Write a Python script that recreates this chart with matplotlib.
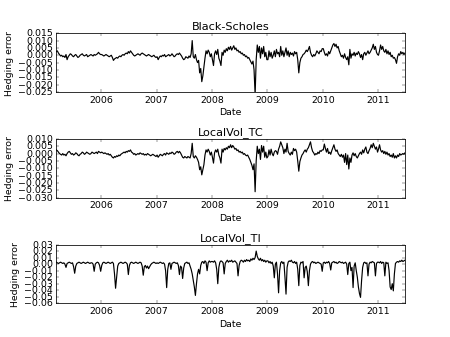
import numpy as np
import pandas as pd
import matplotlib
matplotlib.use("Agg")
import matplotlib.pyplot as plt
import matplotlib.dates as mdates
from matplotlib.ticker import MultipleLocator

plt.style.use("classic")

# Hedging error values in units of 1e-3, one list per calendar year (roughly weekly)
bs_2005 = [2.5, 3.0, 1.5, 0.5, -0.5, 0.0, -1.0, -0.5, -1.5, 0.5, -3.0, -1.0, 0.0, 1.0, 0.5, -0.5, -1.0, 0.0, 0.5, -0.5, -1.5, -1.0, 0.0, 0.5, 1.0, 0.0, -0.5, 0.0, 0.5, -1.0, -0.5, 0.0, 0.5, 0.0, -0.5, 0.5, 0.0, 0.5, 1.0, 2.0, 1.0, 0.5]
bs_2006 = [0.5, 0.0, -0.5, 0.0, 0.5, 0.0, -0.5, -1.0, -0.5, 0.0, -1.5, -3.5, -2.5, -2.0, -1.5, -2.0, -1.0, -0.5, -1.0, 0.0, 0.5, 0.0, 1.0, 1.5, 1.0, 2.5, 1.5, 3.0, 2.0, 1.0, 0.0, -0.5, 0.0, 0.5, 1.0, 0.5, 0.0, 1.0, 1.5, 1.0, 0.5, 0.0, -0.5, 0.0, 0.5, 0.0, -0.5, -1.0, -0.5, 0.0, -1.0, -1.5]
bs_2007 = [-1.0, -3.0, -1.5, -0.5, -1.0, 0.0, -0.5, 0.5, -1.0, -0.5, 0.0, 0.5, -0.5, 0.0, 1.0, 0.0, -1.0, -0.5, 0.5, 1.0, 0.5, 1.5, 0.5, -0.5, -2.0, -3.0, -2.5, -1.0, -1.5, -2.0, -0.5, -1.5, 1.0, 10.0, -1.0, -2.0, 0.5, -3.0, -5.0, -3.5, -12.0, -9.0, -18.0, -14.0, -8.0, -2.0, 3.0, 1.0, 3.5, 2.0, -1.0, 1.0]
bs_2008 = [-3.0, -7.0, 1.0, 3.0, 0.5, 4.0, -2.0, -4.0, -7.0, 2.0, 0.0, 3.5, 2.0, 4.5, 3.0, 5.5, 4.0, 6.0, 3.5, 5.0, 6.5, 4.0, 5.0, 3.0, 3.5, 2.0, 2.5, 1.0, 1.5, 0.0, 0.5, -1.0, -0.5, -2.0, -1.5, -3.0, -4.5, -6.0, -4.0, -10.0, -27.0, -3.0, 7.0, 2.0, 6.0, -2.0, 5.0, 1.0, 6.0, -1.0, 2.0, -3.0]
bs_2009 = [-3.0, 3.0, -1.0, 2.0, -2.0, 0.0, 3.0, -1.0, 4.0, 1.0, 2.0, -1.0, 6.0, 0.0, 3.0, -1.0, 2.0, 5.0, 0.0, 3.0, -1.0, 2.0, 0.5, 1.5, -0.5, 2.5, 1.0, 2.0, -3.0, -12.0, -5.0, -2.0, -1.0, 0.5, 1.0, 2.0, 3.5, 2.5, 4.0, 6.0, 2.0, 0.0, -1.0, 0.5, -0.5, 1.0, 3.0, 2.0, 1.0, 3.0, 2.5, 4.5]
bs_2010 = [4.5, 2.0, 0.0, 1.0, -0.5, 2.5, 1.0, 3.0, 5.0, 7.0, 8.0, 6.0, 7.5, 5.0, 6.0, 3.0, 1.0, -1.0, 0.0, -2.0, 1.0, -1.5, -3.0, -1.0, -6.5, 4.0, -2.0, 1.0, 0.0, 2.0, -0.5, 1.5, 0.5, 2.5, 1.0, -1.5, 0.5, -3.0, 1.0, 2.0, 0.0, 1.5, 3.0, 1.0, 2.0, 3.5, 5.0, 7.5, 4.0, 6.0, 2.0, 0.5]
bs_2011 = [0.0, 3.0, 7.0, 4.0, 6.0, 3.0, 2.0, 4.0, 1.0, 3.0, 0.5, 2.0, -1.0, 0.0, -2.0, -1.5, -3.0, -5.5, -1.0, 1.0, 0.0, 2.5, 1.0, 2.0, 0.5, 1.5]

tc_2005 = [2.5, 2.0, 1.0, 0.0, -0.5, -1.0, 0.0, -1.0, -0.5, -1.5, 0.0, 1.0, 1.5, 0.5, -0.5, 0.0, -1.0, -0.5, 0.5, 0.0, -1.0, -1.5, -0.5, 0.0, 1.0, 0.5, -0.5, 0.0, 1.0, 0.5, 0.0, -0.5, 0.0, 1.0, 0.5, 0.0, 0.5, 1.0, 0.0, 1.5, 1.0, 0.5]
tc_2006 = [1.0, 0.5, 0.0, 0.5, 0.0, -0.5, 0.0, -1.0, -0.5, -1.5, -2.5, -3.0, -2.0, -2.5, -1.5, -2.0, -1.0, -1.5, -0.5, 0.0, 0.5, 1.0, 0.5, 1.5, 1.0, 2.0, 1.5, 2.5, 1.0, 0.5, -0.5, 0.0, -1.0, -0.5, 0.0, -0.5, 0.5, 0.0, -0.5, 0.0, -1.0, -0.5, -1.0, 0.0, -0.5, -1.0, -1.5, -1.0, -0.5, -1.0, -1.5, -2.0]
tc_2007 = [-1.0, -2.5, -1.5, -0.5, -1.0, -1.5, -0.5, 0.0, -1.0, 0.5, 0.0, -0.5, 0.5, 0.0, 1.0, 0.5, -0.5, 0.0, 1.0, 1.5, 0.5, 1.5, 0.5, -1.0, -2.5, -3.0, -2.0, -2.5, -3.0, -2.0, -2.5, -3.0, 0.0, 7.0, -2.0, -3.0, -1.5, -2.5, -4.0, -6.0, -11.0, -9.0, -14.5, -11.0, -7.5, -1.0, 2.5, 1.0, 3.0, 1.5, -1.0, 1.0]
tc_2008 = [-2.5, -6.5, 0.5, 2.5, 1.0, 3.0, -1.0, -3.0, -6.5, 3.0, 1.0, 3.5, 2.5, 4.0, 3.0, 5.0, 4.0, 6.0, 4.0, 5.5, 4.5, 3.0, 3.5, 2.0, 2.5, 1.0, 1.5, 0.5, 1.0, -0.5, 0.0, -1.0, -1.5, -1.0, -2.5, -4.0, -6.0, -8.0, -11.0, -7.0, -26.0, -5.0, 5.0, 0.0, 3.0, -4.0, 5.5, 1.0, 5.0, -2.5, 1.0, -3.0]
tc_2009 = [-2.0, 2.5, -1.0, 3.0, 0.0, -1.5, 1.0, 2.0, 1.5, -0.5, 3.0, 5.0, 8.0, 6.0, 4.0, 0.0, 3.0, 1.0, 7.0, 1.5, 0.0, -1.0, 1.0, -0.5, 3.5, 2.0, 3.0, 1.0, -5.0, -12.0, -5.5, -3.0, -1.0, 0.0, 1.5, 2.5, 1.0, 3.0, 4.0, 6.0, 8.0, 4.0, 1.5, 0.5, -1.0, 0.0, -0.5, 1.0, 0.0, 2.0, 1.5, 2.5]
tc_2010 = [2.5, 6.5, 3.5, 1.0, 3.5, 0.0, 1.0, -0.5, 2.0, 4.0, 6.0, 3.0, 1.5, 2.5, 0.0, -1.0, -2.0, -0.5, -2.5, -1.0, -6.0, 0.0, -7.5, -1.0, -10.5, -3.0, -6.0, -1.0, 0.5, -1.5, 0.0, -2.0, -3.0, -1.5, 0.0, 1.0, -0.5, 2.5, 0.5, 3.0, 4.5, 1.0, 0.0, 2.0, 3.5, 6.0, 4.0, 7.0, 5.0, 3.0, 4.5, 1.0]
tc_2011 = [3.0, 6.0, 2.5, 1.0, 2.0, 0.0, 1.5, -0.5, 1.0, -1.0, 0.0, -2.0, -1.0, -2.5, 0.0, -3.0, -1.5, -3.0, -1.0, -2.0, 0.0, -1.0, -0.5, 0.0, -0.5, 0.5]

ti_2005 = [3, 2, 1, 2, 3, 2, 1, 2, 0, -5, 1, 2, 3, 2, 1, 2, -4, -14, -3, 1, 2, 3, 2, 1, 2, 3, 2, 1, 2, 3, 2, 1, 2, 2, 0, -11, 0, 2, 3, 2, -2, -11]
ti_2006 = [-2, 2, 3, 2, 1, 2, 3, 2, 1, 2, 3, 1, -15, -37, -20, -3, 1, 2, 3, 2, 1, 2, 3, 2, 0, -16, -2, 2, 3, 2, 1, 2, 3, 2, 1, 2, 3, 2, -3, -17, -4, -2, -6, -3, -7, -4, -1, 1, 2, 3, 2, 1]
ti_2007 = [2, 1, 2, 3, 2, 1, 2, 0, -10, -36, -8, 1, 2, -8, 1, 2, 3, 2, 1, 2, -2, -16, -3, -5, -22, -6, 1, 2, 3, 1, 2, -3, -8, -15, -25, -35, -48, -30, -15, -8, -15, -2, 3, 4, 1, 5, 3, -10, 2, 5, 3, 4]
ti_2008 = [4, 3, 5, 2, -8, -30, -5, 3, 5, 4, 2, -15, 1, 4, 6, 3, 5, 4, 6, 3, 4, 5, 3, 1, -18, -2, 4, 6, 5, 3, 6, 4, 7, 5, 6, 4, 8, 6, 9, 7, 10, 20, 12, 8, 6, 9, 5, 7, 4, 6, 3, 5]
ti_2009 = [5, 2, 4, 1, 3, -3, -21, 0, 3, -15, -44, -10, 2, 4, 1, 3, -20, -46, -5, 3, 5, 4, 6, 3, 2, 4, 1, 3, -8, -33, -2, 3, 2, 4, -21, -5, -3, -12, -33, -10, 0, 3, 4, 2, 3, 1, 2, 3, 2, 1, 0, -11]
ti_2010 = [2, 3, 1, 3, 2, 4, 1, -9, 2, 3, 4, 2, 3, 1, 2, 4, 3, 2, 3, 1, 2, 3, 0, -16, 1, 3, -10, -5, -36, -3, 2, -10, -20, -35, -45, -51, -25, -5, 2, 3, 1, 2, -18, 0, 3, 2, 4, 3, 2, -18, 1, 3]
ti_2011 = [3, 2, 4, 1, 3, 2, -18, 3, 1, 2, -10, -35, -39, -30, -41, -15, 1, 3, 4, 3, 5, 4, 6, 4, 5, 6]

year_spans = [("2005-03-10", "2005-12-28"), ("2006-01-04", "2006-12-28"),
              ("2007-01-04", "2007-12-28"), ("2008-01-04", "2008-12-28"),
              ("2009-01-04", "2009-12-28"), ("2010-01-04", "2010-12-28"),
              ("2011-01-03", "2011-06-27")]

titles = ["Black-Scholes", "LocalVol_TC", "LocalVol_TI"]
ylims = [(-0.025, 0.015), (-0.030, 0.010), (-0.06, 0.03)]
ysteps = [0.005, 0.005, 0.01]


def build(parts):
    dates, vals = [], []
    for (s, e), p in zip(year_spans, parts):
        dates.append(pd.date_range(s, e, periods=len(p)))
        vals.append(np.asarray(p, dtype=float) * 1e-3)
    return dates[0].append(dates[1:]), np.concatenate(vals)


series = [
    build([bs_2005, bs_2006, bs_2007, bs_2008, bs_2009, bs_2010, bs_2011]),
    build([tc_2005, tc_2006, tc_2007, tc_2008, tc_2009, tc_2010, tc_2011]),
    build([ti_2005, ti_2006, ti_2007, ti_2008, ti_2009, ti_2010, ti_2011]),
]

fig = plt.figure(figsize=(8, 6), dpi=56.25, facecolor="white")
fig.subplots_adjust(left=0.125, right=0.9, bottom=0.1, top=0.9, hspace=0.8)

for i, ((d, v), title, yl, st) in enumerate(zip(series, titles, ylims, ysteps)):
    ax = fig.add_subplot(3, 1, i + 1)
    ax.plot(d, v, color="k", linewidth=1.5)
    ax.set_title(title)
    ax.set_xlabel("Date")
    ax.set_ylabel("Hedging error")
    ax.set_ylim(*yl)
    ax.yaxis.set_major_locator(MultipleLocator(st))
    ax.set_xlim(pd.Timestamp("2005-03-10"), pd.Timestamp("2011-06-27"))
    ax.xaxis.set_major_locator(mdates.YearLocator())
    ax.xaxis.set_major_formatter(mdates.DateFormatter("%Y"))

fig.savefig("out.png", dpi=56.25, facecolor="white")
